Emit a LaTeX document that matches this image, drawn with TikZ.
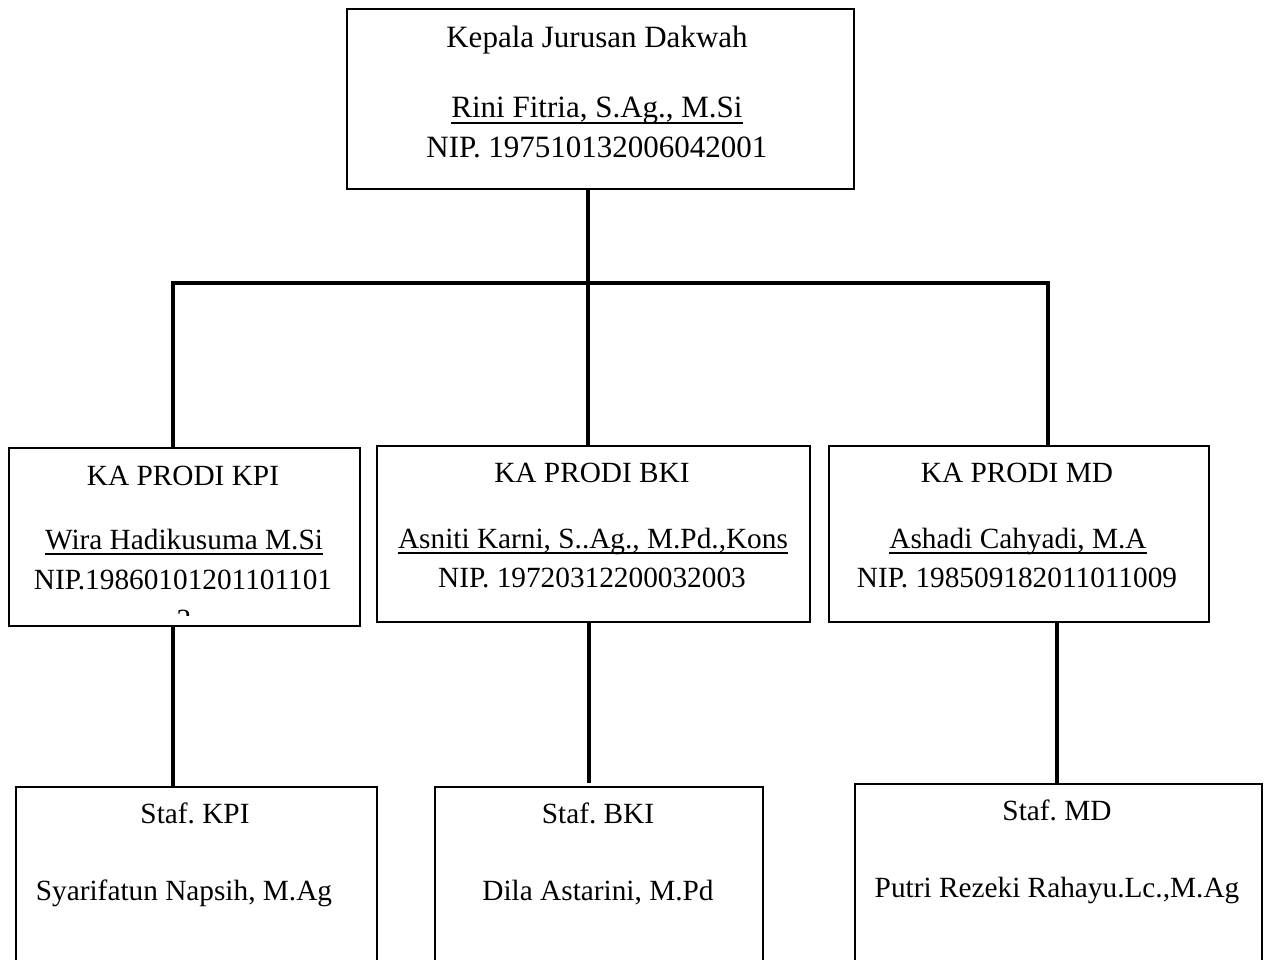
\documentclass[tikz,border=0pt]{standalone}
\usepackage{fontspec}
\setmainfont{Liberation Serif}
\newcommand{\myul}[1]{\setbox0\hbox{#1}\rlap{\rule[-6pt]{\wd0}{1.8pt}}\box0}
\frenchspacing
\begin{document}
\begin{tikzpicture}[x=1pt,y=-1pt,
  box/.style={draw,line width=2pt,rectangle,inner sep=0pt,anchor=north west},
  conn/.style={line width=4pt},
  lbl/.style={anchor=base,inner sep=0pt,font=\fontsize{29.3}{35}\selectfont\frenchspacing},
  lbltop/.style={anchor=base,inner sep=0pt,font=\fontsize{31}{37}\selectfont\frenchspacing}]
\useasboundingbox (0,0) rectangle (1266,960);
\fill[white] (0,0) rectangle (1266,960);
\clip (0,0) rectangle (1266,960);
% boxes
\node[box,minimum width=507pt,minimum height=180pt] (top) at (346,8) {};
\node[box,minimum width=351pt,minimum height=178pt] (kpi) at (8,447) {};
\node[box,minimum width=433pt,minimum height=176pt] (bki) at (376,445) {};
\node[box,minimum width=380pt,minimum height=176pt] (md) at (828,445) {};
\node[box,minimum width=361pt,minimum height=220pt] (skpi) at (15,786) {};
\node[box,minimum width=328pt,minimum height=220pt] (sbki) at (434,786) {};
\node[box,minimum width=407pt,minimum height=220pt] (smd) at (854,783) {};
% connector columns
\coordinate (xC) at (588,0);
\coordinate (xL) at (173,0);
\coordinate (xR) at (1048,0);
\coordinate (xB) at (589,0);
\coordinate (xM) at (1057,0);
\coordinate (yBar) at (0,283);
\draw[conn] (xC |- top.south) -- (xC |- bki.north);
\draw[conn] (xL |- kpi.north) -- (xL |- yBar) -- (xR |- yBar) -- (xR |- md.north);
\draw[conn] (xL |- kpi.south) -- (xL |- skpi.north);
\draw[conn,shorten >=3pt] (xB |- bki.south) -- (xB |- sbki.north);
\draw[conn] (xM |- md.south) -- (xM |- smd.north);
% texts
\node[lbltop] (t1) at (597,48) {Kepala Jurusan Dakwah};
\node[lbltop] (t2) at (597,118) {\myul{Rini Fitria, S.Ag., M.Si}};
\node[lbltop] (t3) at (597,158) {NIP. 197510132006042001};
\node[lbl] (k1) at (183,485) {KA PRODI KPI};
\node[lbl] (k2) at (184,549) {\myul{Wira Hadikusuma M.Si}};
\node[lbl] (k3) at (183,589) {NIP.19860101201101101};
\begin{scope}
\clip (10,449) rectangle (357,615);
\node[lbl] (k4) at (184,629) {2};
\end{scope}
\node[lbl] (b1) at (592,482) {KA PRODI BKI};
\node[lbl] (b2) at (593,548) {\myul{Asniti Karni, S..Ag., M.Pd.,Kons}};
\node[lbl] (b3) at (592,587) {NIP. 19720312200032003};
\node[lbl] (m1) at (1017,482) {KA PRODI MD};
\node[lbl] (m2) at (1018,548) {\myul{Ashadi Cahyadi, M.A}};
\node[lbl] (m3) at (1017,587) {NIP. 198509182011011009};
\node[lbl] (s1) at (195,823) {Staf. KPI};
\node[lbl] (s2) at (184,900) {Syarifatun Napsih, M.Ag};
\node[lbl] (s3) at (598,823) {Staf. BKI};
\node[lbl] (s4) at (598,900) {Dila Astarini, M.Pd};
\node[lbl] (s5) at (1057,820) {Staf. MD};
\node[lbl] (s6) at (1057,897) {Putri Rezeki Rahayu.Lc.,M.Ag};
\end{tikzpicture}
\end{document}
